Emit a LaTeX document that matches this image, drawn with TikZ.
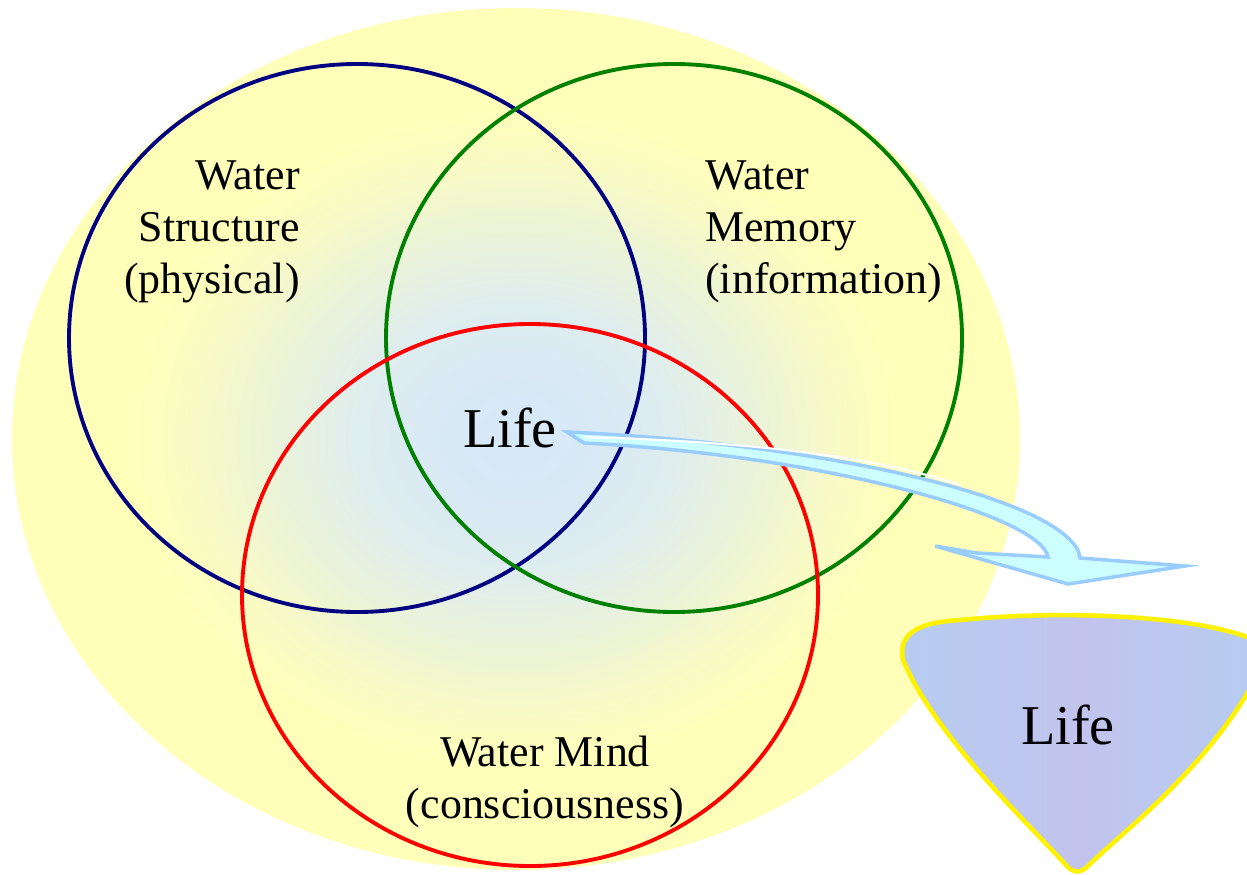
\documentclass[tikz,border=0pt]{standalone}
\usepackage{fontspec}
\setmainfont{Liberation Serif}
\usetikzlibrary{positioning}

\definecolor{paleyellow}{RGB}{255,255,186}
\definecolor{paleblue}{RGB}{214,232,248}
\definecolor{ringblue}{RGB}{0,0,128}
\definecolor{ringgreen}{RGB}{0,128,0}
\definecolor{ringred}{RGB}{255,0,0}
\definecolor{arrowline}{RGB}{153,204,255}
\definecolor{arrowfill}{RGB}{204,255,255}
\definecolor{lifefill}{RGB}{182,204,240}
\definecolor{lifelilac}{RGB}{194,196,238}

% glow: 25bp is the rim of the ellipse
\pgfdeclareradialshading{glow}{\pgfpoint{0bp}{0bp}}{%
  rgb(0bp)=(0.84,0.91,0.97);
  rgb(4bp)=(0.85,0.915,0.965);
  rgb(8bp)=(0.875,0.93,0.93);
  rgb(12bp)=(0.92,0.955,0.85);
  rgb(16bp)=(0.975,0.98,0.77);
  rgb(19bp)=(1,1,0.73);
  rgb(50bp)=(1,1,0.73)}

\tikzset{
  ring/.style={line width=2.2pt},
  label/.style={font=\fontsize{25}{29.6}\selectfont, inner sep=0pt},
  biglabel/.style={font=\fontsize{32}{36}\selectfont, inner sep=0pt},
}

\begin{document}
\begin{tikzpicture}[x=0.02cm, y=-0.02cm]
  \useasboundingbox (0,0) rectangle (1247,875);

  % background glow
  \shade[shading=glow] (516,439) ellipse [x radius=504, y radius=431];

  % the three rings
  \draw[ring, ringblue]  (357,338) ellipse [x radius=288, y radius=274];
  \draw[ring, ringgreen] (674,338) ellipse [x radius=288, y radius=274];
  \draw[ring, ringred]   (530,595) ellipse [x radius=288, y radius=271];

  \node[label, align=right, anchor=east] (structure) at (300,232) {Water\\Structure\\(physical)};
  \node[label, align=left, anchor=west] (memory) at (705,232) {Water\\Memory\\(information)};
  \node[label, align=center] (mind) at (545,782) {Water Mind\\(consciousness)};
  \node[biglabel] (life) at (510,428) {Life};

  % result shape
  \filldraw[draw=yellow, line width=2.6pt, left color=lifefill, right color=lifefill, middle color=lifelilac]
    (903,660) .. controls (897,630) and (925,622) .. (960,620)
    .. controls (1060,610) and (1190,615) .. (1250,638)
    .. controls (1266,646) and (1264,665) .. (1255,680)
    .. controls (1205,770) and (1125,830) .. (1090,864)
    .. controls (1081,874) and (1073,874) .. (1065,864)
    .. controls (1020,815) and (935,735) .. cycle;
  \node[biglabel] (result) at (1068,725) {Life};

  % curved block arrow
  \coordinate (tailtop) at (567,432);
  \coordinate (tailbot) at (584,443);
  \filldraw[draw=arrowline, fill=arrowfill, line width=2pt, line join=miter]
    (tailtop) .. controls (850,445) and (1075,505) .. (1080,558)
    -- (1185,566) -- (1068,584) -- (935,546) -- (977,553) -- (1048,557)
    .. controls (1040,515) and (820,455) .. (tailbot) -- cycle;
  \draw[white, line width=1.2pt] (585,437) .. controls (760,442) and (880,458) .. (960,485);
\end{tikzpicture}
\end{document}
